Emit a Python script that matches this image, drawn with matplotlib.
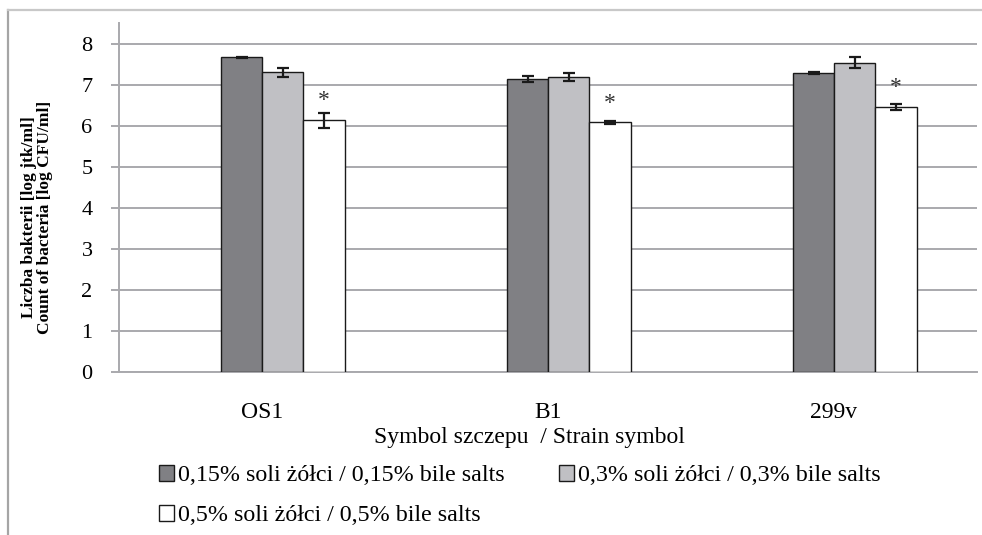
#Liczba bakterii po ekspozycji na sole żółci
import matplotlib
matplotlib.use("Agg")
import matplotlib.pyplot as plt
from matplotlib.lines import Line2D
import numpy as np

plt.rcParams['font.family'] = ['Liberation Serif', 'DejaVu Serif']

# dane: szczepy i wartości log jtk/ml
szczepy = ["OS1", "B1", "299v"]
serie = ["0,15% soli żółci / 0,15% bile salts",
         "0,3% soli żółci / 0,3% bile salts",
         "0,5% soli żółci / 0,5% bile salts"]
wartosci = [[7.67, 7.15, 7.29],
            [7.31, 7.19, 7.54],
            [6.13, 6.08, 6.46]]
bledy = [[0.02, 0.07, 0.02],
         [0.11, 0.10, 0.14],
         [0.19, 0.04, 0.08]]
istotne = [False, False, True]   # gwiazdka nad serią 0,5%

kolory = ["#808084", "#c0c0c4", "#ffffff"]
siatka = "#a9a9ad"

fig = plt.figure(figsize=(9.82, 5.35), dpi=100)
ax = fig.add_axes([119/982, 1-371.7/535, (977-119)/982, (371.7-23.3)/535])

x = np.arange(len(szczepy))
szer = 0.1434
przes = 0.0734
uchwyty = []
for j in range(3):
    pos = x + (j-1)*szer + przes
    b = ax.bar(pos, wartosci[j], szer, color=kolory[j], edgecolor="#1a1a1a",
               linewidth=1.0, zorder=3, label=serie[j])
    ax.errorbar(pos, wartosci[j], yerr=bledy[j], fmt="none", ecolor="#1a1a1a",
                elinewidth=1.6, capsize=4.5, capthick=1.6, zorder=4)
    uchwyty.append(b)
    if istotne[j]:
        for p, v in zip(pos, wartosci[j]):
            ax.annotate("*", xy=(p, v), xytext=(0, 14), textcoords="offset points",
                        ha="center", va="center", fontsize=17, color="#333333")

ax.set_xlim(-0.5, 2.5)
ax.set_ylim(0, 8.5)
ax.set_yticks(range(0, 9))
ax.yaxis.grid(True, color=siatka, linewidth=1.4, zorder=0)
ax.set_axisbelow(True)
for s in ["top", "right"]:
    ax.spines[s].set_visible(False)
ax.spines["left"].set_color(siatka)
ax.spines["left"].set_linewidth(1.4)
ax.spines["bottom"].set_color(siatka)
ax.spines["bottom"].set_linewidth(1.4)
ax.tick_params(axis="y", length=6, width=1.4, color=siatka, pad=13, labelsize=16)
ax.tick_params(axis="x", length=0, pad=22, labelsize=17)
ax.set_xticks(x)
ax.set_xticklabels(szczepy)

fig.text(529/982, 1-437/535, "Symbol szczepu  / Strain symbol", ha="center",
         va="center", fontsize=17)
fig.text(37/982, 1-217/535, "Liczba bakterii [log jtk/ml]\nCount of bacteria [log CFU/ml]",
         rotation=90, ha="center", va="center", fontsize=12.5, fontweight="bold",
         linespacing=1.0, multialignment="center")

# legenda pod wykresem
h = [uchwyty[0], uchwyty[2], uchwyty[1]]
lab = [serie[0], serie[2], serie[1]]
fig.legend(h, lab, loc="upper left", bbox_to_anchor=(159/982, 1-465/535),
           ncol=2, frameon=False, fontsize=17.3, handlelength=0.62, handleheight=0.62,
           handletextpad=0.15, columnspacing=2.3, labelspacing=0.78,
           borderpad=0, borderaxespad=0)

# ramka
fig.add_artist(Line2D([8/982, 8/982], [0, 1-10/535], color="#a5a5a5", linewidth=1.6,
                      transform=fig.transFigure))
fig.add_artist(Line2D([8/982, 1], [1-10/535, 1-10/535], color="#c8c8c8", linewidth=1.6,
                      transform=fig.transFigure))

fig.savefig("out.png", dpi=100)
